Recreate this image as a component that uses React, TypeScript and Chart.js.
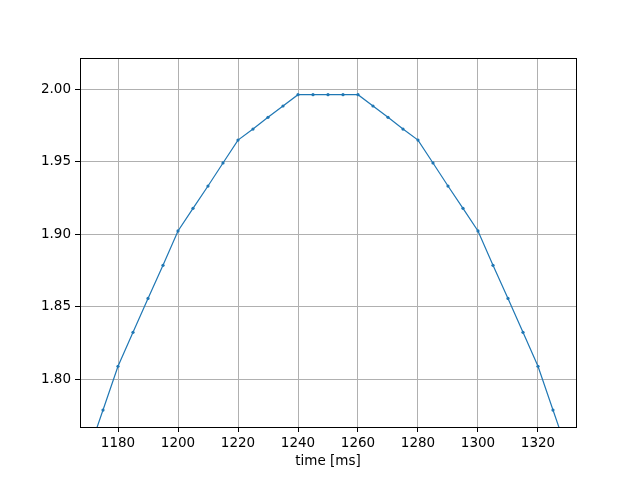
import { useEffect, useRef } from "react";
import { Chart, registerables } from "chart.js";

Chart.register(...registerables);

// ── Data ───────────────────────────────────────────────────────────────────
const TIMES = [
  1170, 1175, 1180, 1185, 1190, 1195, 1200, 1205, 1210, 1215, 1220, 1225, 1230, 1235,
  1240, 1245, 1250, 1255, 1260, 1265, 1270, 1275, 1280, 1285, 1290, 1295, 1300, 1305,
  1310, 1315, 1320, 1325, 1330,
];
const VALUES = [
  1.7486, 1.7786, 1.8088, 1.8322, 1.8556, 1.8784, 1.9021, 1.9177, 1.9331, 1.949, 1.9648,
  1.9724, 1.9805, 1.9883, 1.9961, 1.9961, 1.9961, 1.9961, 1.9961, 1.9883, 1.9805, 1.9724,
  1.9648, 1.949, 1.9331, 1.9177, 1.9021, 1.8784, 1.8556, 1.8322, 1.8088, 1.7786, 1.7486,
];
const X_TICKS = [1180, 1200, 1220, 1240, 1260, 1280, 1300, 1320];
const Y_TICKS = [1.8, 1.85, 1.9, 1.95, 2.0];
const X_LABEL = "time [ms]";

const FONT = "'DejaVu Sans', sans-serif";

// frame on all four sides, like matplotlib
const framePlugin = {
  id: "frame",
  afterDraw(chart: Chart) {
    const { ctx, chartArea: a } = chart;
    ctx.save();
    ctx.strokeStyle = "#000";
    ctx.lineWidth = 1;
    ctx.strokeRect(Math.round(a.left) + 0.5, Math.round(a.top) + 0.5, Math.round(a.right - a.left), Math.round(a.bottom - a.top));
    ctx.restore();
  },
};

export default function App() {
  const canvasRef = useRef<HTMLCanvasElement>(null);

  useEffect(() => {
    if (!canvasRef.current) return;
    const chart = new Chart(canvasRef.current, {
      type: "line",
      data: {
        datasets: [{
          data: TIMES.map((t, i) => ({ x: t, y: VALUES[i] })),
          borderColor: "#1f77b4",
          backgroundColor: "#1f77b4",
          borderWidth: 1.2,
          pointRadius: 1.6,
          pointBorderWidth: 0,
          tension: 0,
        }],
      },
      options: {
        animation: false,
        responsive: false,
        devicePixelRatio: 1,
        layout: { padding: { left: 0, top: 58, right: 64, bottom: 10 } },
        plugins: { legend: { display: false }, tooltip: { enabled: false } },
        scales: {
          x: {
            type: "linear",
            min: 1167.33,
            max: 1332.67,
            afterBuildTicks: (s: any) => { s.ticks = X_TICKS.map((v) => ({ value: v })); },
            afterFit: (s: any) => { s.height = 43; },
            grid: { color: "#b0b0b0", lineWidth: 1, tickColor: "#000", tickLength: 5 },
            border: { display: false },
            ticks: { color: "#000", font: { family: FONT, size: 13.5 }, padding: 3, maxRotation: 0, callback: (v: any) => String(v) },
            title: { display: true, text: X_LABEL, color: "#000", font: { family: FONT, size: 13.5 }, padding: { top: 2, bottom: 0 } },
          },
          y: {
            type: "linear",
            min: 1.7669,
            max: 2.0214,
            afterBuildTicks: (s: any) => { s.ticks = Y_TICKS.map((v) => ({ value: v })); },
            afterFit: (s: any) => { s.width = 80; },
            grid: { color: "#b0b0b0", lineWidth: 1, tickColor: "#000", tickLength: 5 },
            border: { display: false },
            ticks: { color: "#000", font: { family: FONT, size: 13.5 }, padding: 4, callback: (v: any) => Number(v).toFixed(2) },
          },
        },
      },
      plugins: [framePlugin],
    });
    return () => { chart.destroy(); };
  }, []);

  return (
    <div style={{ width: 640, height: 480, margin: -8, background: "#fff" }}>
      <canvas ref={canvasRef} width={640} height={480} style={{ display: "block" }} />
    </div>
  );
}
